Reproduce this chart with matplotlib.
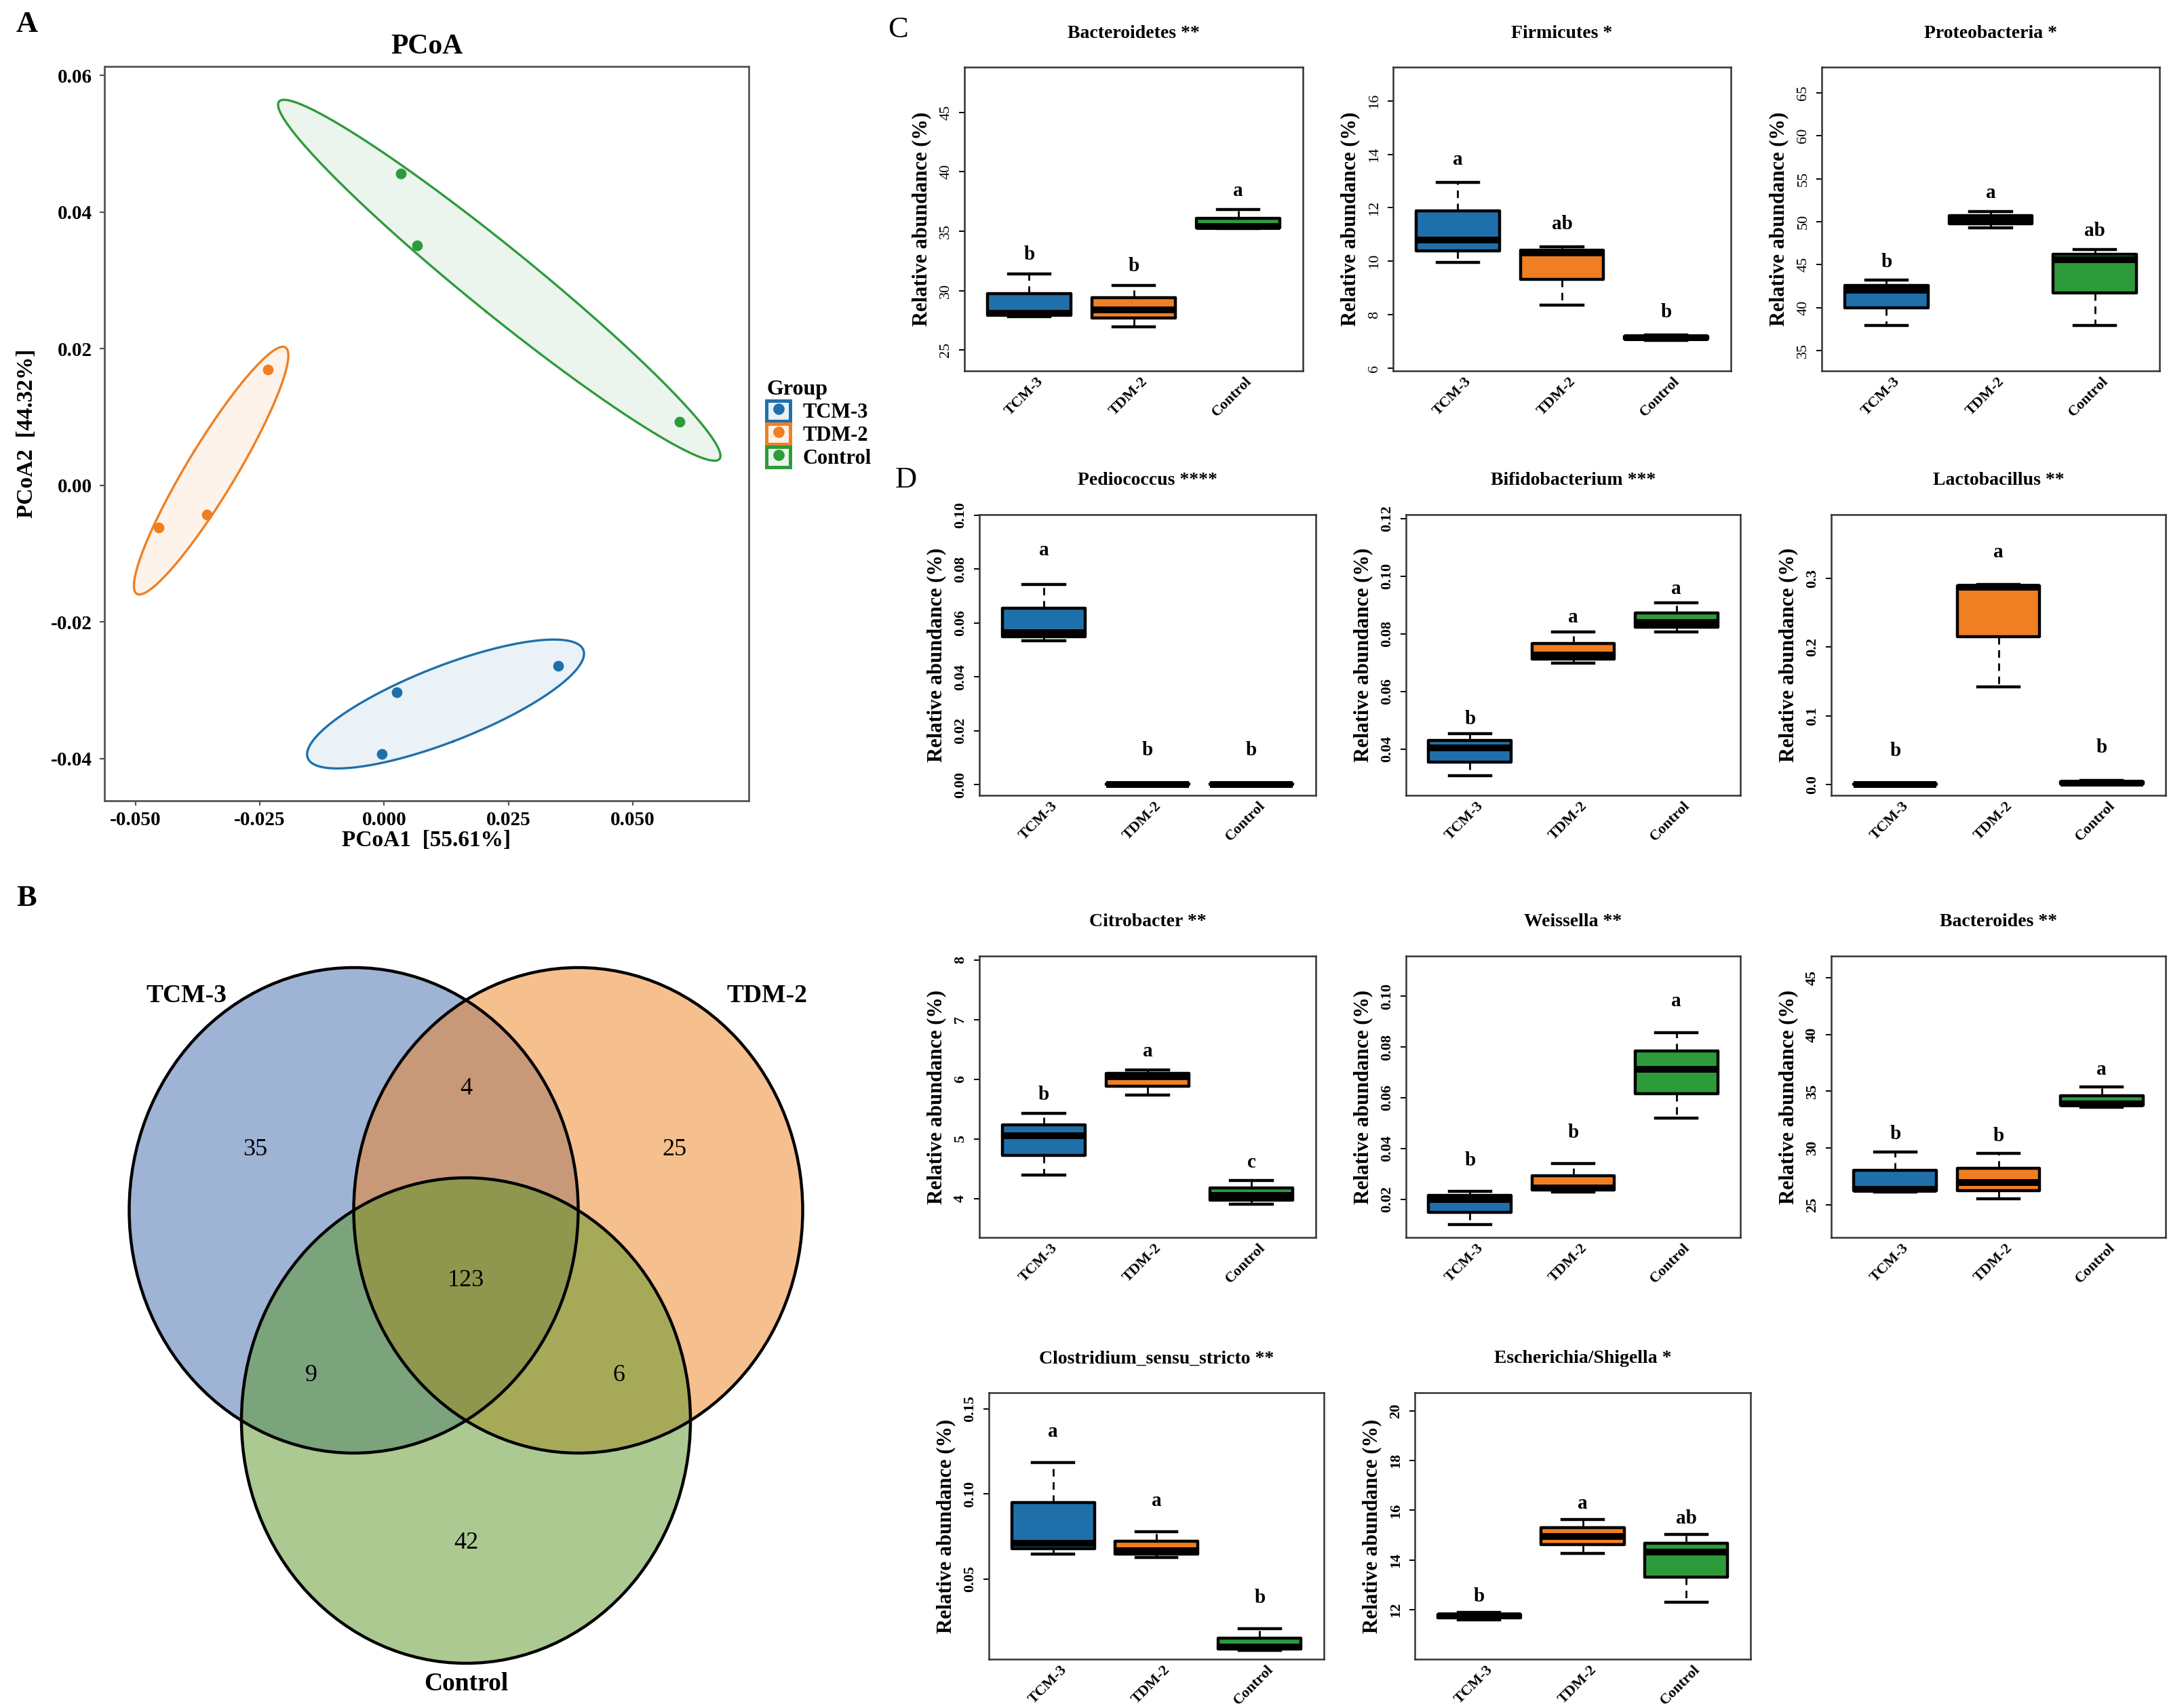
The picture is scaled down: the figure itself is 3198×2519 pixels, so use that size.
import numpy as np
import matplotlib
matplotlib.use('Agg')
import matplotlib.pyplot as plt
from matplotlib.patches import Ellipse, Patch
from matplotlib.lines import Line2D
from matplotlib.ticker import FormatStrFormatter
from matplotlib.transforms import ScaledTranslation

plt.rcParams['font.family'] = ['Liberation Serif', 'DejaVu Serif']

W, H, DPI = 3198, 2519, 200

groups = ['TCM-3', 'TDM-2', 'Control']
group_colors = ['#1f70aa', '#ef7f22', '#2e9b3b']

# ---- A: PCoA scores (3 samples per group) ----
pcoa_tcm_x = [0.0350, 0.0025, -0.0005]
pcoa_tcm_y = [-0.0264, -0.0303, -0.0394]
pcoa_tdm_x = [-0.0234, -0.0357, -0.0453]
pcoa_tdm_y = [0.0169, -0.0043, -0.0062]
pcoa_ctl_x = [0.0034, 0.0066, 0.0594]
pcoa_ctl_y = [0.0456, 0.0351, 0.0093]

# ---- B: shared / unique OTUs ----
venn_counts = [35, 25, 42, 4, 9, 6, 123]  # TCM only, TDM only, Control only, TCM&TDM, TCM&Ctl, TDM&Ctl, all
venn_colors = ['#4168ac', '#ef811e', '#589424']

# ---- C / D: relative abundance, 3 samples per group (TCM-3, TDM-2, Control) ----
bacteroidetes = [[27.8, 28.1, 31.4], [26.95, 28.4, 30.45], [35.2, 35.4, 36.8]]
firmicutes = [[9.96, 10.8, 12.95], [8.37, 10.3, 10.55], [7.05, 7.15, 7.25]]
proteobacteria = [[37.9, 42.0, 43.2], [49.3, 50.2, 51.2], [37.9, 45.6, 46.8]]
pediococcus = [[0.0535, 0.0565, 0.0744], [0.0, 0.0001, 0.0003], [0.0, 0.0001, 0.0003]]
bifidobacterium = [[0.0307, 0.0403, 0.0454], [0.0697, 0.0726, 0.0807], [0.0806, 0.0840, 0.0906]]
lactobacillus = [[0.0, 0.0005, 0.001], [0.1421, 0.287, 0.2904], [0.0, 0.002, 0.006]]
citrobacter = [[4.40, 5.05, 5.43], [5.735, 6.04, 6.16], [3.91, 4.05, 4.30]]
weissella = [[0.0099, 0.0198, 0.0231], [0.0229, 0.0245, 0.0341], [0.052, 0.0713, 0.0858]]
bacteroides = [[26.1, 26.35, 29.67], [25.54, 26.94, 29.5], [33.6, 33.9, 35.37]]
clostridium = [[0.0645, 0.0711, 0.1184], [0.0627, 0.0665, 0.0779], [0.0080, 0.0098, 0.0209]]
escherichia = [[11.58, 11.75, 11.88], [14.26, 14.96, 15.64], [12.29, 14.31, 15.04]]

letters_bacteroidetes = ['b', 'b', 'a']
letters_firmicutes = ['a', 'ab', 'b']
letters_proteobacteria = ['b', 'a', 'ab']
letters_pediococcus = ['a', 'b', 'b']
letters_bifidobacterium = ['b', 'a', 'a']
letters_lactobacillus = ['b', 'a', 'b']
letters_citrobacter = ['b', 'a', 'c']
letters_weissella = ['b', 'b', 'a']
letters_bacteroides = ['b', 'b', 'a']
letters_clostridium = ['a', 'a', 'b']
letters_escherichia = ['b', 'a', 'ab']


def px_axes(fig, x0, y0, x1, y1):
    return fig.add_axes([x0 / W, 1 - y1 / H, (x1 - x0) / W, (y1 - y0) / H])


def conf_ellipse(x, y, scale=np.sqrt(2), n=300):
    pts = np.column_stack([x, y])
    mu = pts.mean(axis=0)
    vals, vecs = np.linalg.eigh(np.cov(pts, rowvar=False))
    t = np.linspace(0, 2 * np.pi, n)
    circ = np.column_stack([np.cos(t), np.sin(t)])
    return mu + scale * circ @ (vecs * np.sqrt(vals)).T


fig = plt.figure(figsize=(W / DPI, H / DPI), dpi=DPI)

# ================= A =================
ax = px_axes(fig, 154, 98, 1104, 1181)
pcoa = [(pcoa_tcm_x, pcoa_tcm_y), (pcoa_tdm_x, pcoa_tdm_y), (pcoa_ctl_x, pcoa_ctl_y)]
for (x, y), c in zip(pcoa, group_colors):
    e = conf_ellipse(x, y)
    ax.fill(e[:, 0], e[:, 1], color=c, alpha=0.09, lw=0, zorder=1)
    ax.plot(e[:, 0], e[:, 1], color=c, lw=1.2, zorder=2)
    ax.scatter(x, y, s=22, color=c, zorder=3)
ax.set_xlim(-0.05625, 0.0733)
ax.set_ylim(-0.0462, 0.0613)
ax.set_xticks([-0.05, -0.025, 0, 0.025, 0.05])
ax.set_yticks([-0.04, -0.02, 0, 0.02, 0.04, 0.06])
ax.xaxis.set_major_formatter(FormatStrFormatter('%.3f'))
ax.yaxis.set_major_formatter(FormatStrFormatter('%.2f'))
ax.tick_params(length=2.5, width=0.8, color='#555555', labelsize=10.5)
ax.tick_params(axis='x', pad=3)
ax.tick_params(axis='y', pad=4)
for lab in ax.get_xticklabels() + ax.get_yticklabels():
    lab.set_fontweight('bold')
for s in ax.spines.values():
    s.set_color('#555555')
    s.set_linewidth(1.0)
ax.set_title('PCoA', fontsize=15, fontweight='bold', pad=7)
ax.set_xlabel('PCoA1  [55.61%]', fontsize=12, fontweight='bold', va='center')
ax.xaxis.set_label_coords(0.5, -59 / 1083)
ax.set_ylabel('PCoA2  [44.32%]', fontsize=12, fontweight='bold', va='center')
ax.yaxis.set_label_coords(-114 / 950, 0.5)

handles = [(Patch(facecolor=c, edgecolor=c, lw=0, alpha=0.1),
            Patch(facecolor='none', edgecolor=c, lw=1.8),
            Line2D([], [], marker='o', ls='', color=c, markersize=5))
           for c in group_colors]
leg = ax.legend(handles, groups, title='Group', loc='upper left',
                bbox_to_anchor=(1130 / W, 1 - 560 / H), bbox_transform=fig.transFigure,
                frameon=False, borderpad=0, borderaxespad=0, handlelength=1.15,
                handleheight=1.15, handletextpad=0.6, labelspacing=0.05,
                prop={'weight': 'bold', 'size': 11}, alignment='left')
leg.get_title().set_fontweight('bold')
leg.get_title().set_fontsize(11.5)

# ================= B =================
axv = px_axes(fig, 60, 1330, 1320, 2519)
axv.set_xlim((60 - 687) / 331, (1320 - 687) / 331)
axv.set_ylim((1785 - 2519) / 358, (1785 - 1330) / 358)
axv.axis('off')
centers = [(-0.5, 0.0), (0.5, 0.0), (0.0, -np.sqrt(3) / 2)]
for (cx, cy), c in zip(centers, venn_colors):
    axv.add_patch(Ellipse((cx, cy), 2, 2, facecolor=c, alpha=0.5, lw=0))
for cx, cy in centers:
    axv.add_patch(Ellipse((cx, cy), 2, 2, fill=False, edgecolor='black', lw=1.6))
venn_label_xy = [(-0.94, 0.25), (0.93, 0.25), (0.0, -1.37), (0.0, 0.5),
                 (-0.69, -0.68), (0.68, -0.68), (0.0, -0.29)]
for (tx, ty), n in zip(venn_label_xy, venn_counts):
    axv.text(tx, ty, str(n), ha='center', va='center', fontsize=13)
for (tx, ty), g in zip([(-1.245, 0.885), (1.34, 0.885), (0.0, -1.95)], groups):
    axv.text(tx, ty, g, ha='center', va='center', fontsize=13.5, fontweight='bold')

# ================= C / D =================
row_c, row_d1, row_d2, row_d3 = (99, 547), (759, 1173), (1410, 1825), (2054, 2447)
cols_c = [(1422, 1921), (2054, 2552), (2686, 3184)]
cols_d = [(1444, 1940), (2073, 2566), (2700, 3193)]
cols_d3 = [(1458, 1952), (2086, 2581)]

panels = [
    ('Bacteroidetes **', bacteroidetes, letters_bacteroidetes, [25, 30, 35, 40, 45], (23.25, 48.8), '%d', 0.063, cols_c[0], row_c, False),
    ('Firmicutes *', firmicutes, letters_firmicutes, [6, 8, 10, 12, 14, 16], (5.9, 17.26), '%d', 0.075, cols_c[1], row_c, False),
    ('Proteobacteria *', proteobacteria, letters_proteobacteria, [35, 40, 45, 50, 55, 60, 65], (32.65, 67.97), '%d', 0.06, cols_c[2], row_c, False),
    ('Pediococcus ****', pediococcus, letters_pediococcus, [0, 0.02, 0.04, 0.06, 0.08, 0.10], (-0.004, 0.1002), '%.2f', 0.12, cols_d[0], row_d1, True),
    ('Bifidobacterium ***', bifidobacterium, letters_bifidobacterium, [0.04, 0.06, 0.08, 0.10, 0.12], (0.0239, 0.1213), '%.2f', 0.05, cols_d[1], row_d1, True),
    ('Lactobacillus **', lactobacillus, letters_lactobacillus, [0.0, 0.1, 0.2, 0.3], (-0.0157, 0.3924), '%.1f', 0.117, cols_d[2], row_d1, True),
    ('Citrobacter **', citrobacter, letters_citrobacter, [4, 5, 6, 7, 8], (3.35, 8.065), '%d', 0.065, cols_d[0], row_d2, True),
    ('Weissella **', weissella, letters_weissella, [0.02, 0.04, 0.06, 0.08, 0.10], (0.0049, 0.1159), '%.2f', 0.11, cols_d[1], row_d2, True),
    ('Bacteroides **', bacteroides, letters_bacteroides, [25, 30, 35, 40, 45], (22.1, 46.94), '%d', 0.063, cols_d[2], row_d2, True),
    ('Clostridium_sensu_stricto **', clostridium, letters_clostridium, [0.05, 0.10, 0.15], (0.0028, 0.1595), '%.2f', 0.115, cols_d3[0], row_d3, True),
    ('Escherichia/Shigella *', escherichia, letters_escherichia, [12, 14, 16, 18, 20], (10.01, 20.73), '%d', 0.06, cols_d3[1], row_d3, True),
]

shift = ScaledTranslation(10 / DPI, 0, fig.dpi_scale_trans)
for title, vals, letters, yticks, ylim, fmt, pad, (x0, x1), (y0, y1), bold in panels:
    ax = px_axes(fig, x0, y0, x1, y1)
    bp = ax.boxplot(vals, positions=[1, 2, 3], widths=0.8, whis=(0, 100),
                    patch_artist=True, showfliers=False, manage_ticks=False,
                    capwidths=0.4,
                    boxprops=dict(edgecolor='black', linewidth=1.6, joinstyle='round'),
                    medianprops=dict(color='black', linewidth=3.6, solid_capstyle='butt'),
                    whiskerprops=dict(color='black', linewidth=1.0, linestyle=(0, (4, 3))),
                    capprops=dict(color='black', linewidth=1.6))
    for patch, c in zip(bp['boxes'], group_colors):
        patch.set_facecolor(c)
    ax.set_xlim(0.38, 3.62)
    ax.set_ylim(*ylim)
    span = ylim[1] - ylim[0]
    for i, (v, lab) in enumerate(zip(vals, letters)):
        ax.text(i + 1, max(v) + pad * span, lab, ha='center', va='center',
                fontsize=10.5, fontweight='bold')
    ax.set_yticks(yticks)
    ax.yaxis.set_major_formatter(FormatStrFormatter(fmt))
    ax.tick_params(axis='y', labelrotation=90, length=2.9, width=0.7, pad=3.5, labelsize=8)
    for lab in ax.get_yticklabels():
        lab.set_va('center')
        lab.set_fontweight('bold' if bold else 'normal')
    ax.set_xticks([1, 2, 3])
    ax.set_xticklabels(groups, rotation=45, ha='right', rotation_mode='anchor',
                       fontsize=8, fontweight='bold')
    ax.tick_params(axis='x', length=0, pad=2)
    for lab in ax.get_xticklabels():
        lab.set_transform(lab.get_transform() + shift)
    for s in ax.spines.values():
        s.set_linewidth(0.9)
        s.set_color('#333333')
    ax.set_ylabel('Relative abundance (%)', fontsize=11, fontweight='bold', va='center')
    ax.yaxis.set_label_coords(-63 / (x1 - x0), 0.5)
    ax.annotate(title, xy=(0.5, 1), xycoords='axes fraction', xytext=(0, 18),
                textcoords='offset points', ha='center', va='center',
                fontsize=10, fontweight='bold')

# panel letters
fig.text(40 / W, 1 - 36 / H, 'A', fontsize=16, fontweight='bold', ha='center', va='center')
fig.text(39 / W, 1 - 1325 / H, 'B', fontsize=16, fontweight='bold', ha='center', va='center')
fig.text(1324 / W, 1 - 44 / H, 'C', fontsize=16, ha='center', va='center')
fig.text(1336 / W, 1 - 708 / H, 'D', fontsize=16, ha='center', va='center')

fig.savefig('out.png', dpi=DPI, facecolor='white')
